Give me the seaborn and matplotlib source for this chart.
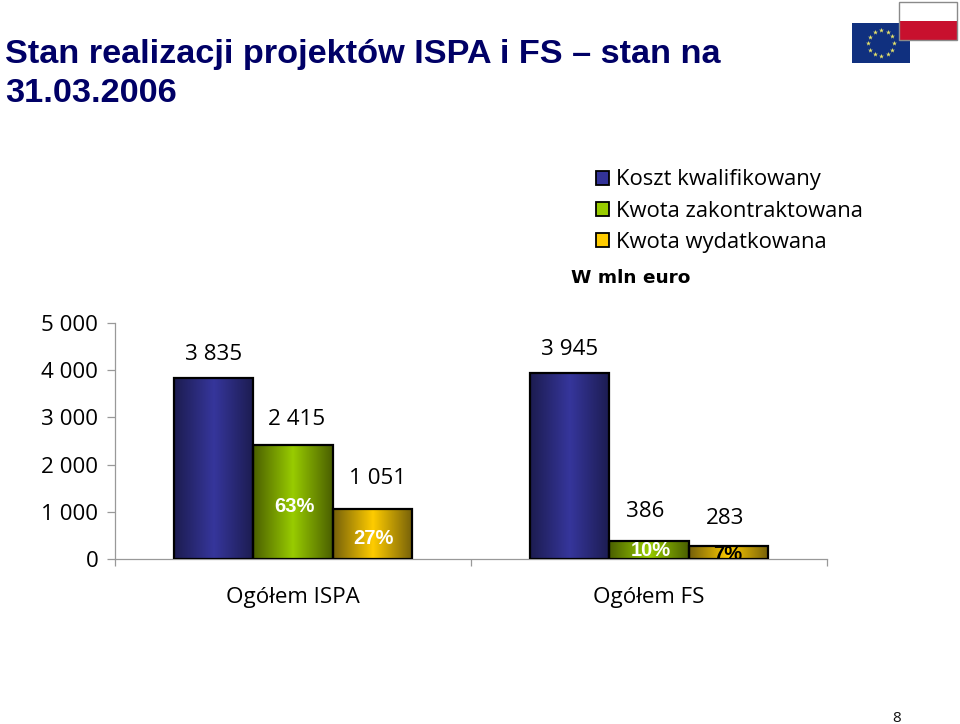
import numpy as np
import pandas as pd
import seaborn as sns
import matplotlib
matplotlib.use("Agg")
import matplotlib.pyplot as plt
from matplotlib.colors import LinearSegmentedColormap
from matplotlib.patches import Rectangle, Patch

categories = ["Ogółem ISPA", "Ogółem FS"]
series_names = ["Koszt kwalifikowany", "Kwota zakontraktowana", "Kwota wydatkowana"]
koszt = [3835, 3945]
kontrakt = [2415, 386]
wydatki = [1051, 283]
value_labels = [["3 835", "3 945"], ["2 415", "386"], ["1 051", "283"]]
pct_labels = [[None, None], ["63%", "10%"], ["27%", "7%"]]
y_ticks = [0, 1000, 2000, 3000, 4000, 5000]
y_tick_labels = ["0", "1 000", "2 000", "3 000", "4 000", "5 000"]
title = "Stan realizacji projektów ISPA i FS – stan na\n31.03.2006"
unit_note = "W mln euro"

edge_cols = ["#1c1c50", "#4a5f00", "#75600a"]
mid_cols = ["#36369c", "#99cc00", "#ffcc00"]
flat_cols = ["#333399", "#99cc00", "#ffcc00"]

sns.set_theme(style="white")
BODY = "Open Sans"
FS = 16.1
W, H = 960, 724
fig = plt.figure(figsize=(W / 100, H / 100), dpi=100, facecolor="white")
ax = fig.add_axes([115 / W, 1 - 559 / H, (827 - 115) / W, (559 - 323) / H])

df = pd.DataFrame({
    "cat": categories * 3,
    "series": sum([[s] * 2 for s in series_names], []),
    "val": koszt + kontrakt + wydatki,
})
sns.barplot(data=df, x="cat", y="val", hue="series", hue_order=series_names,
            palette=flat_cols, width=0.668, gap=0, edgecolor="black", linewidth=1.6,
            legend=False, ax=ax, saturation=1, zorder=3)

ax.set_xlabel("")
ax.set_ylabel("")

for k, cont in enumerate(ax.containers):
    cmap = LinearSegmentedColormap.from_list("g", [edge_cols[k], mid_cols[k], edge_cols[k]])
    for j, bar in enumerate(cont):
        x0, w, h = bar.get_x(), bar.get_width(), bar.get_height()
        bar.set_facecolor("none")
        ax.imshow(np.linspace(0, 1, 128)[None, :], extent=(x0, x0 + w, 0, h),
                  cmap=cmap, aspect="auto", zorder=2, interpolation="bilinear")
ax.set_xlim(-0.5, 1.5)
ax.set_ylim(0, 5000)

offs = [[(0, 23), (0, 23)], [(4, 26), (-4, 29)], [(5, 31), (-3, 27)]]
pct_y = [[None, None], [1120, 170], [430, 90]]
pct_dx = [[0, 0], [1, 2], [1, -1]]
pct_col = [[None, None], ["white", "white"], ["white", "black"]]
for k, cont in enumerate(ax.containers):
    for j, bar in enumerate(cont):
        cx = bar.get_x() + bar.get_width() / 2
        h = bar.get_height()
        dx, dy = offs[k][j]
        ax.annotate(value_labels[k][j], (cx, h), xytext=(dx * 0.72, dy * 0.72),
                    textcoords="offset points", ha="center", va="center",
                    fontsize=FS, family=BODY, color="black", zorder=6, annotation_clip=False)
        if pct_labels[k][j]:
            ax.annotate(pct_labels[k][j], (cx, pct_y[k][j]), xytext=(pct_dx[k][j] * 0.72, 0),
                        textcoords="offset points", ha="center", va="center",
                        fontsize=14.5, fontweight="bold", family="Liberation Sans",
                        color=pct_col[k][j], zorder=6, clip_on=True)

for s in ("top", "right"):
    ax.spines[s].set_visible(False)
for s in ("left", "bottom"):
    ax.spines[s].set_color("#999999")
    ax.spines[s].set_linewidth(0.9)
ax.set_yticks(y_ticks, y_tick_labels)
ax.tick_params(axis="y", which="major", left=True, length=6, width=0.9, color="#999999",
               pad=6, labelsize=FS, labelcolor="black")
for t in ax.get_yticklabels():
    t.set_family(BODY)
ax.set_xticks([0, 1], categories)
ax.tick_params(axis="x", which="major", bottom=False, length=0, pad=20, labelsize=FS, labelcolor="black")
for t in ax.get_xticklabels():
    t.set_family(BODY)
ax.set_xticks([-0.5, 0.5, 1.5], minor=True)
ax.tick_params(axis="x", which="minor", bottom=True, length=5, width=0.9, color="#999999")

handles = [Patch(facecolor=c, edgecolor="black", linewidth=1.3) for c in flat_cols]
leg = fig.legend(handles, series_names, loc="upper left", bbox_to_anchor=(592 / W, 1 - 165 / H),
                 frameon=False, handlelength=0.58, handleheight=0.6,
                 handletextpad=0.3, labelspacing=0.46, borderpad=0.2, borderaxespad=0,
                 prop={"family": BODY, "size": 15.85})
for t in leg.get_texts():
    t.set_color("black")

ov = fig.add_axes([0, 0, 1, 1], zorder=10)
ov.set_xlim(0, W)
ov.set_ylim(H, 0)
ov.axis("off")
ov.patch.set_alpha(0)

ov.text(5, 55, title.split("\n")[0], fontsize=24.7, fontweight="bold", family="Liberation Sans",
        color="#000066", va="center", ha="left")
ov.text(5, 93, title.split("\n")[1], fontsize=24.7, fontweight="bold", family="Liberation Sans",
        color="#000066", va="center", ha="left")
ov.text(571, 278, unit_note, fontsize=13.3, fontweight="bold", family="DejaVu Sans",
        color="black", va="center", ha="left")
ov.text(897, 718, "8", fontsize=11, family=BODY, color="#111111", va="center", ha="center")

ov.add_patch(Rectangle((852, 23), 58, 40, facecolor="#10307f", edgecolor="none"))
ang = np.deg2rad(np.arange(0, 360, 30))
ov.scatter(881 + 13 * np.cos(ang), 43 + 13 * np.sin(ang), marker="*", s=14,
           color="#e6e26a", linewidths=0, zorder=3)
ov.add_patch(Rectangle((899, 2), 58, 19, facecolor="white", edgecolor="none", zorder=4))
ov.add_patch(Rectangle((899, 21), 58, 19, facecolor="#c8102e", edgecolor="none", zorder=4))
ov.add_patch(Rectangle((899, 2), 58, 38, facecolor="none", edgecolor="#8a8a8a", linewidth=1, zorder=5))

fig.savefig("out.png", dpi=100, facecolor="white")
